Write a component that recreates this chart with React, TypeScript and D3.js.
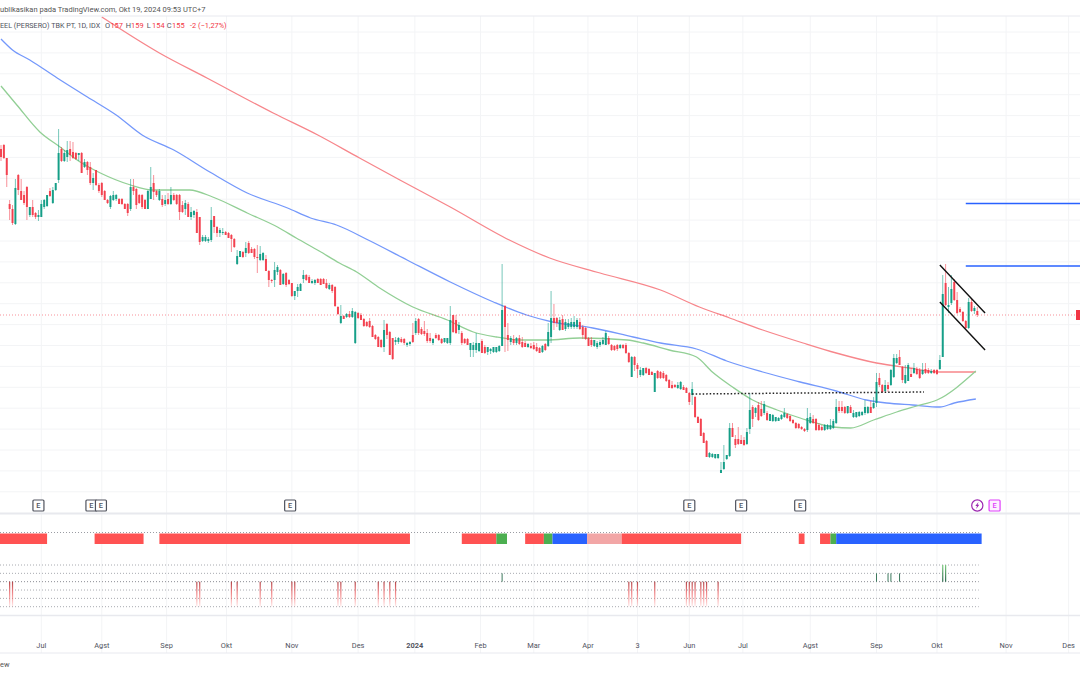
import React from 'react';
import * as d3 from 'd3';

type Candle = [number, number, number, number]; // open, high, low, close
type Pt = [number, number]; // bar index, price

const candlesJun23: Candle[] = [
  [238,240,232,234],[240,240.5,233,233.5],[233.5,233.5,219,225],[210.5,212.5,202.5,208],[208,210,200,201],
  [200.5,223,200,218.5],[225,225.5,215,217.5],[217,223,212.5,212.5],[215,217,210,211],[219,219.5,202.5,209],
  [205,209,204,209],[209,212.5,204,205],[206,206.5,203,204],[204,207.5,202,205],
];
const candlesJul23: Candle[] = [
  [204,212.5,204,210.5],[209,213,208,212.5],[209.5,215,209,215],[217,218.5,214,214.5],[211,219,210.5,217.5],
  [217.5,221,217,221],[222.5,248,221,236],[238,239,231.5,232],[232,237.5,231.5,236],[234,242,231.5,237.5],
  [238,242,232,235],[236.5,241.5,233,233.5],[236,236.5,232.5,233],[235,236,232,236],[236,236.5,226,226],
  [229,233,228.5,231.5],[231.5,232,225,227.5],[229,231.5,220,221],[221,226,217.5,223.5],[227.5,227.5,219.5,220],
  [220,221,216,217],
];
const candlesAug23: Candle[] = [
  [221,221.5,214,215],[217,217.5,212.5,212.5],[212.5,213,210.5,211],[209,215,208,214.5],[212.5,217,212,215],
  [213,215.5,212,215],[213,213.5,210.5,210.5],[213,213.5,210,210.5],[210.5,211,208,208],[210.5,211,204.5,206],
  [208,223,207,219],[219,223,215,217],[218,218.5,208,210],[215,215.5,210.5,211],[215,215.5,208,209],
  [212.5,213,208,208],[208,217.5,208,217],[213,229,213,219],[221,225,212.5,216.5],[217,217.5,214,215],
  [212.5,218,212,217],[213,215,209,210],[210.5,215,209.5,212.5],
];
const candlesSep23: Candle[] = [
  [213,216,210,210.5],[210.5,219,210,215],[215,216,212,212.5],[215,215.5,210,210.5],[215,215.5,202.5,206.5],
  [210,212,206,206.5],[208,212.5,205,211],[210.5,211.5,204,204],[204,209,202.5,206.5],[205,207.5,203.5,207],
  [206.5,208,196,196],[204,204,190,191.5],[192,195,191.5,194],[192,195,191.5,194],[192,194,191,193],
  [192.5,209,191.5,202.5],[204.5,204.5,196,199],[199,199.5,194,196],[196,198.5,194,197.5],[196,198.5,195,196.5],
  [196.5,197,195,195],
];
const candlesOct23: Candle[] = [
  [196,196.5,193.5,193.5],[195,195.5,186.5,193],[193,193.5,188.5,189],[180.5,187.5,180,184.5],[184,187,184,187],
  [186.5,187,183.5,184],[186,191.5,184,188.5],[191,192,185.5,186],[188,189,186,186],[188,188.5,183,184],
  [184,190,176,183.5],[182.5,189.5,182,185.5],[182.5,186.5,182,186],[183,185,177,177],[177,177.5,169,172.5],
  [172.5,173,171,172],[172.5,181.5,169,177.5],[176.5,180,175,179],[177.5,178,170,170],[170.5,176,170,175.5],
  [176,176.5,169,170],[172.5,173,170,170.5],[171,171,164,164.5],
];
const candlesNov23: Candle[] = [
  [164.5,167,162.5,167],[167,170.5,164,169],[167,171,167,170.5],[173,177.5,171,175],[175,175.5,172,172.5],
  [174,175,171,171],[171,173,170.5,172],[171,173,170,172.5],[173,173.5,171,171],[173,173.5,170,170],
  [173,173.5,170.5,170.5],[171,173,168,168.5],[168,171,167.5,170],[170,170.5,166,167],[169,169.5,159,159.5],
  [159,159.5,155,155.5],[151,160,150.5,154.5],[154.5,155,153,153],[154,156,153.5,155.5],[155.5,157,153.5,154],
  [154,158.5,153.5,157],[141,157,140.5,156.5],[156,156.5,153,153.5],
];
const candlesDec23: Candle[] = [
  [155,156,152.5,152.5],[153,153.5,149,149.5],[151.5,152,149,149.5],[152,153.5,148.5,149],[149.5,150,144,144],
  [145,145.5,142.5,143],[144,144.5,139,139],[142.5,143,138.5,139],[139,152.5,136.5,147.5],[150.5,151,143,145],
  [146.5,147,135,135],[143.5,143.5,132.5,133],[141.5,144,140,142.5],[141.5,144,140.5,143.5],[143,144,141,141.5],
  [143,143.5,140,141],[140,141.5,139,141],[140.5,142,139.5,141.5],[145,151,141,141.5],
];
const candlesJan24: Candle[] = [
  [146,153.5,145,152],[153,153.5,145,146],[148,149,145,145.5],[147,152,144.5,145.5],[146,148,141,142],
  [143.5,146,141,142],[141,143.5,140,143],[145,146,143,143.5],[145,145.5,142,142.5],[143,143.5,140.5,141],
  [141.5,143.5,141,143.5],[141,143.5,140.5,143.5],[141,159.5,140,152.5],[155,155,146,146.5],[152.5,155,145.5,146],
  [147.5,151.5,145.5,150],[146,147,140,141],[143,143.5,140.5,141],[143,143.5,140,140],[137.5,141,134,141],
  [137.5,141.5,134,140],[137.5,146,136,141],[137,141,136.5,141],
];
const candlesFeb24: Candle[] = [
  [142,143,136,136],[139,140,135.5,136],[136.5,139,135,139],[137,138.5,135.5,138],[136.5,139,136,139],
  [136.5,139,136,139],[137,140,136.5,139.5],[139.5,180.5,139.5,157.5],[159.5,160,136.5,149],[145,151,137,142.5],
  [141.5,144.5,140,143.5],[143,145,140,141],[141,144,140,143.5],[143.5,145,140,140.5],[141.5,144,138.5,139],
  [141,142,139,139],[139,141,138.5,140.5],[139.5,141,138,138.5],[140,141.5,137.5,138],[139,141,136.5,137],
];
const candlesMar24: Candle[] = [
  [138.5,139,136,136],[136.5,140,136,139.5],[140.5,141,137,137.5],[139.5,151,139,146.5],[144,167,141,153.5],
  [153.5,160.5,147.5,151],[153.5,154,149,151],[147.5,154,147,152.5],[153,155,147.5,147.5],[148,153,147,151.5],
  [149,153,148,151],[149,153.5,148,151.5],[149,154.5,148,151.5],[149,153.5,148,152.5],[151.5,153.5,147.5,148],
  [149,150,143,145],[148.5,149,142.5,143],[143.5,144,139.5,139.5],
];
const candlesApr24: Candle[] = [
  [142.5,144,139,140],[139.5,142.5,139,142.5],[139,142,138,141],[140,142.5,139,141.5],[140.5,144,140,142.5],
  [140,147,140,146],[143.5,144.5,140,140.5],[140,140.5,137,137.5],[139.5,140,137,137.5],[140,140.5,137,138],
  [138.5,140.5,138,140],[140,140.5,138,138.5],[140,141,135.5,136],[136,136.5,131,131.5],[124,134.5,124,134],
  [134,134.5,127,130],[130,131,123.5,128],[125,129,124,127.5],
];
const candlesMay24: Candle[] = [
  [125,128.5,124.5,128.5],[128.5,129,125.5,126],[128,128.5,125,125],[126.5,127,125,125],[116.5,126,116.5,126],
  [127,127.5,123,123.5],[126.5,127,123,123.5],[126,127,123,123.5],[125,125.5,121.5,122],[122.5,123,118.5,118.5],
  [120,122,118,118.5],[120,120.5,118.5,119],[118.5,121.5,118,120],[118,122,117.5,121.5],[119,120,117.5,117.5],
  [118.5,119,116,116],[116,116.5,110,111.5],[115,121.5,110,118],
];
const candlesJun24: Candle[] = [
  [114,114.5,103.5,104],[104,104.5,101,101],[103,103.5,94.5,94.5],[96,96.5,91,91],[92,92.5,84,84],
  [84,86.5,83.5,86],[84,86,83.5,85.5],[83.5,85.5,83,85.5],[83.5,85.5,83,85.5],[76,81.5,76,77.5],
  [78,90,77.5,81.5],[83,85,82.5,85],[84.5,101,84,98.5],[98.5,101,94,94],[93,95,88.5,90],
  [93,99,90,90.5],[92.5,95,90.5,90.5],[92.5,94,89.5,90],
];
const candlesJul24: Candle[] = [
  [90.5,98.5,90,96.5],[98,116,95.5,107.5],[109,110,99,103],[106,109,104,108.5],[110,111.5,102,102.5],
  [108,112,104,104.5],[106,112,105,110.5],[106,107,102,102.5],[102,105.5,102,105.5],[102,105.5,101.5,105],
  [102,104,101.5,104],[102,104,102,103.5],[103,105.5,102.5,105],[104,108.5,103.5,106],[105.5,106,103,103.5],
  [104.5,105,101.5,102],[102.5,103,100.5,101],[101,101.5,98,98.5],[100.5,101,98,98.5],[99,99.5,97.5,98],
  [98,98.5,96.5,97],[97.5,108.5,96.5,103.5],[101,106,100.5,104],
];
const candlesAug24: Candle[] = [
  [103,105,100.5,101],[103,103.5,97,97.5],[100,101,97,97.5],[99,100,97,97.5],[97.5,100.5,97,100],
  [98,100.5,97.5,100],[98,103,97.5,100],[98.5,103,98,102],[101,113,100.5,109],[109,112,106,107],
  [109,112,106,107],[109,109.5,105.5,106],[106,109.5,105.5,109.5],[109,110,106,106],[104,107.5,103.5,106],
  [104,106.5,103.5,106.5],[104.5,107,104,106.5],[105,107,104.5,106.5],[106,112.5,105,109],[106,109.5,105.5,109],
  [109,112,106,106],[108.5,114,108,111],[111,126,109,121.5],
];
const candlesSep24: Candle[] = [
  [123.5,126,119,120],[120,120.5,116,116.5],[117,122.5,116.5,120],[120,121.5,116.5,118],[120,128,119.5,127.5],
  [124,135.5,123.5,133.5],[131,135.5,130.5,133.5],[134,137.5,130,130],[129,129.5,121,122.5],[121,130,120.5,125],
  [122,131,122,130],[125.5,128.5,124,124],[126,131,125.5,128.5],[128,129,125,125.5],[127.5,128.5,123,123.5],
  [125.5,131,125,127.5],[128,131,125.5,126],[127.5,128.5,125.5,126],[126,128,125.5,127],[127.5,128,125.5,126],
  [127.5,128,125,125.5],
];
const candlesOct24: Candle[] = [
  [128,135,127.5,132.5],[134,175,134,165.5],[171,180.5,159.5,160],[159,169,156,160],[161,175,160,168],
  [171.5,173,162,162.5],[162.5,166.5,155.5,156],[158,159,156,156.5],[156.5,157,151.5,152],[152,152.5,148,148.5],
  [148.5,163.5,148,161.5],[161.5,163,156.5,157],[157,159.5,155.5,158.5],[157,159,154,155],
];

const ma200: Pt[] = [
  [35,304],[55,286],[71.5,273.5],[94.5,256],[110,245],[124.5,233.5],[138.5,222.5],[156,209],[176.5,192.5],
  [190.5,183.5],[208,176],[229,167.5],[242.5,159],[253,153.5],[264.5,147.5],[278.5,141],[290,136],[304,131],
  [315.5,128.5],[326,126.5],[338.5,126.5],
];
const ma100: Pt[] = [
  [0,293],[4,287.5],[10,282.5],[19.5,273.5],[30,264],[40,255],[49,245],[60,237.5],[72.5,226.5],[85.5,216],
  [99.5,208.5],[107.5,203.5],[116.5,200],[127.5,192.5],[141,182.5],[156,171.5],[171,161.5],[182.5,155],
  [191.5,151.5],[205.5,148.5],[219.5,144],[229,141],[241.5,138],[252,132],[264.5,126.5],[277.5,121.5],
  [290,117],[300.5,112.5],[307.5,111],[316.5,110],[326,109],[331,111],[338.5,113],
];
const ma50: Pt[] = [
  [0,269.5],[5.5,260],[13.5,246.5],[20.5,239],[27.5,231.5],[34.5,226],[45,220],[53,217.5],[65.5,217.5],
  [73.5,214],[85.5,206],[96,199],[102.5,193.5],[110.5,187],[117.5,181],[123.5,176.5],[131.5,168.5],[143,159],
  [155,152.5],[164,146.5],[172,144],[181,142.5],[189.5,142.5],[201,143.5],[217.5,142.5],[223,141],[232,137.5],
  [241.5,134],[247,126.5],[254,119],[261,112.5],[269.5,107.5],[277.5,103.5],[289,99],[295,98.5],[303,102.5],
  [311,106.5],[318,109.5],[325,112.5],[338.5,127],
];

// drawings on the price pane
const targetLines: Pt[][] = [[[335,210.75],[380,210.75]], [[335,179.5],[380,179.5]]];
const channelLines: Pt[][] = [[[326,180],[341.7,156]], [[326,161.5],[341.7,137.5]]];
const breakoutLine: Pt[] = [[240,115.5],[320.5,116.5]];

const tickIdx = [14,35,57.5,78.3,101,124,143.7,166.5,185,203.8,221,239,257.6,281,304,325,349,370.7];
const tickLabels = ['Jul','Agst','Sep','Okt','Nov','Des','2024','Feb','Mar','Apr','3','Jun','Jul','Agst','Sep','Okt','Nov','Des'];

const earningsIdx = [13,31.4,34.7,100.4,239,257,277.5];
const nextEarningsIdx = 345;
const dividendIdx = 339;

const bandStart = [-1,32.5,55,160,172,182,188.5,191.5,203.5,215.5,277,284.4,288,290];
const bandEnd = [16,49.5,142,172,175.7,188.5,191.5,203.5,215.5,257,279,288,290,340.5];
const bandKind = ['red','red','red','red','green','red','green','blue','pink','red','red','red','green','blue'];
const bandColors: Record<string, string> = { red: '#ff5252', green: '#4caf50', blue: '#2962ff', pink: '#f2a6a6' };

const sellIdx = [3,4,68,69,80,82,90,94,101,102,117,118,123,131,133,135,137,218,219,221,227,238,239,240,241,243,244,245,249];
const buyOneIdx = [174,304,308,309,312];
const buyTwoIdx = [327,328];
const signalLevels = [2,1,0,-1,-2,-3];

const WIDTH = 1080;
const HEIGHT = 675;

export default function App() {
  const candles = [
    ...candlesJun23, ...candlesJul23, ...candlesAug23, ...candlesSep23, ...candlesOct23, ...candlesNov23,
    ...candlesDec23, ...candlesJan24, ...candlesFeb24, ...candlesMar24, ...candlesApr24, ...candlesMay24,
    ...candlesJun24, ...candlesJul24, ...candlesAug24, ...candlesSep24, ...candlesOct24,
  ];

  const x = d3.scaleLinear().domain([0, 339]).range([1, 977.3]);
  const y = d3.scaleLinear().domain([0, 312.5]).range([625, 0]);
  const ySignal = d3.scaleLinear().domain([2, -3]).range([565, 606.7]);

  const maLine = d3.line<Pt>().x(d => x(d[0])).y(d => y(d[1])).curve(d3.curveMonotoneX);
  const gridPrices = d3.range(0, 23).map(k => 296.5 - 10.45 * k);
  const lastPrice = candles[candles.length - 1][3];

  const txt = '#50535e';

  return (
    <svg width={WIDTH} height={HEIGHT} style={{ position: 'absolute', left: 0, top: 0, background: '#fff' }} fontFamily="Roboto, sans-serif">
      <defs>
        <linearGradient id="sellFade" x1="0" x2="0" y1="0" y2="1">
          <stop offset="0" stopColor="#b2474a" />
          <stop offset="0.33" stopColor="#e5777a" />
          <stop offset="1" stopColor="#ff5252" stopOpacity="0.1" />
        </linearGradient>
        <linearGradient id="buyFade" x1="0" x2="0" y1="1" y2="0">
          <stop offset="0" stopColor="#2e6b4f" />
          <stop offset="1" stopColor="#7ccb7f" />
        </linearGradient>
      </defs>

      {/* grid */}
      {gridPrices.map(p => <line key={p} x1={0} x2={WIDTH} y1={y(p)} y2={y(p)} stroke="#f3f4f6" />)}
      {tickIdx.map((t, i) => <line key={i} x1={x(t)} x2={x(t)} y1={16} y2={653} stroke="#f3f4f6" />)}

      {/* moving averages */}
      <path d={maLine(ma200) || ''} fill="none" stroke="#f7868b" strokeWidth={1.3} />
      <path d={maLine(ma100) || ''} fill="none" stroke="#7498fb" strokeWidth={1.3} />
      <path d={maLine(ma50) || ''} fill="none" stroke="#92cf95" strokeWidth={1.3} />

      {/* last price line */}
      <line x1={0} x2={1076} y1={y(lastPrice)} y2={y(lastPrice)} stroke="#f23645" strokeOpacity={0.55} strokeDasharray="1 2" />
      <rect x={1076} y={y(lastPrice) - 5} width={4} height={10} fill="#f23645" />

      {/* candles */}
      {candles.map((c, i) => {
        const col = c[3] >= c[0] ? '#089981' : '#f23645';
        const top = y(Math.max(c[0], c[3]));
        const h = Math.max(1, Math.abs(y(c[0]) - y(c[3])));
        return (
          <g key={i}>
            <line x1={x(i)} x2={x(i)} y1={y(c[1])} y2={y(c[2])} stroke={col} strokeOpacity={0.55} strokeWidth={1} />
            <rect x={x(i) - 1} y={top} width={2} height={h} fill={col} fillOpacity={0.9} />
          </g>
        );
      })}

      {/* drawings */}
      {targetLines.map((l, i) => (
        <line key={i} x1={x(l[0][0])} x2={WIDTH} y1={y(l[0][1])} y2={y(l[1][1])} stroke="#2962ff" strokeWidth={i === 0 ? 1.3 : 1.5} />
      ))}
      {channelLines.map((l, i) => (
        <line key={i} x1={x(l[0][0])} x2={x(l[1][0])} y1={y(l[0][1])} y2={y(l[1][1])} stroke="#111" strokeWidth={1.4} />
      ))}
      <line x1={x(breakoutLine[0][0])} x2={x(breakoutLine[1][0])} y1={y(breakoutLine[0][1])} y2={y(breakoutLine[1][1])} stroke="#222" strokeWidth={1.5} strokeDasharray="1.5 2" />

      {/* earnings markers */}
      {earningsIdx.map((e, i) => (
        <g key={i}>
          <rect x={x(e) - 5.5} y={500} width={11} height={11} rx={1} fill="#fff" stroke="#50535e" strokeWidth={1.2} />
          <text x={x(e)} y={508} textAnchor="middle" fontSize={7.4} fontWeight={500} fill="#50535e">E</text>
        </g>
      ))}
      <rect x={x(nextEarningsIdx) - 5.5} y={500} width={11} height={11} rx={1} fill="#fdf0ff" stroke="#e040fb" strokeWidth={1.2} />
      <text x={x(nextEarningsIdx)} y={508} textAnchor="middle" fontSize={7.4} fontWeight={500} fill="#e040fb">E</text>
      <g transform={`translate(${x(dividendIdx)},505.5)`}>
        <circle r={5.6} fill="#fff" stroke="#9c27b0" strokeWidth={1.2} />
        <path d="M1.2,-3.4 L-2,0.6 L-0.3,0.6 L-1.2,3.4 L2,-0.7 L0.3,-0.7 Z" fill="#9c27b0" />
      </g>

      {/* panes */}
      <line x1={0} x2={WIDTH} y1={16} y2={16} stroke="#e8e9ef" />
      <line x1={0} x2={WIDTH} y1={513.5} y2={513.5} stroke="#e8e9ee" strokeWidth={2} />
      <line x1={0} x2={WIDTH} y1={615.5} y2={615.5} stroke="#e8e9ee" strokeWidth={1.5} />
      <line x1={0} x2={WIDTH} y1={653} y2={653} stroke="#e8e9ef" />

      {/* state band */}
      <line x1={0} x2={x(339.5)} y1={532.5} y2={532.5} stroke="#9a9ca3" strokeDasharray="1 2" />
      {bandStart.map((s, i) => (
        <rect key={i} x={x(s)} y={533.5} width={x(bandEnd[i]) - x(s)} height={10.5} fill={bandColors[bandKind[i]]} />
      ))}

      {/* signal histogram */}
      {signalLevels.map(l => (
        <line key={l} x1={0} x2={x(339.5)} y1={ySignal(l)} y2={ySignal(l)} stroke={l === 0 ? '#8a8c93' : '#a8aab0'} strokeDasharray="1 2" />
      ))}
      {sellIdx.map((s, i) => (
        <rect key={i} x={x(s) - 0.6} y={ySignal(0)} width={1.2} height={ySignal(-3) - ySignal(0)} fill="url(#sellFade)" />
      ))}
      {buyOneIdx.map((s, i) => (
        <rect key={i} x={x(s) - 0.5} y={ySignal(1)} width={1} height={ySignal(0) - ySignal(1)} fill="#3d7a5e" />
      ))}
      {buyTwoIdx.map((s, i) => (
        <rect key={i} x={x(s) - 0.6} y={ySignal(2)} width={1.2} height={ySignal(0) - ySignal(2)} fill="url(#buyFade)" />
      ))}

      {/* axis labels */}
      {tickLabels.map((t, i) => (
        <text key={i} x={x(tickIdx[i])} y={648} textAnchor="middle" fontSize={7.4} fontWeight={t === '2024' ? 700 : 400} fill={txt}>{t}</text>
      ))}

      {/* header */}
      <text x={0} y={11.5} fontSize={7.5} fill="#555">ublikasikan pada TradingView.com, Okt 19, 2024 09:53 UTC+7</text>
      <text x={0} y={28} fontSize={7.2} fill={txt}>EEL (PERSERO) TBK PT, 1D, IDX</text>
      {[['O','157',105],['H','159',125.7],['L','154',146.7],['C','155',166.7]].map(d => (
        <g key={d[0] as string}>
          <text x={d[2] as number} y={28} fontSize={7.4} fill={txt}>{d[0]}</text>
          <text x={(d[2] as number) + 5.4} y={28} fontSize={7.4} fill="#f23645">{d[1]}</text>
        </g>
      ))}
      <text x={190} y={28} fontSize={7.4} fill="#f23645">-2 (−1,27%)</text>
      <text x={0} y={667} fontSize={7.4} fill="#555">ew</text>
    </svg>
  );
}
